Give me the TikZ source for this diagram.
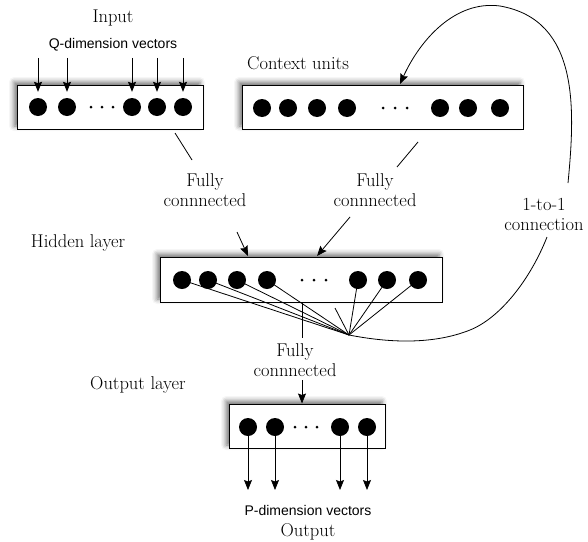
\documentclass[tikz,border=0pt]{standalone}
\usepackage{fontspec}
\newfontfamily\labelsans{Liberation Sans}
\usetikzlibrary{arrows.meta,shadows.blur,positioning}

\begin{document}
\begin{tikzpicture}[x=1pt,y=-1pt,
                unit/.style={circle,fill=black,minimum size=18pt,inner sep=0pt},
                dot/.style={circle,fill=black,minimum size=3pt,inner sep=0pt},
                layer/.style={rectangle,draw=black,line width=1pt,fill=white,inner sep=0pt,
                    blur shadow={shadow xshift=-3pt,shadow yshift=3pt,shadow blur radius=5pt,shadow opacity=55}},
                txt/.style={font=\fontsize{18.5}{20}\selectfont,inner sep=0pt,align=center},
                small/.style={font=\labelsans\fontsize{14}{16}\selectfont,inner sep=0pt},
                arr/.style={-{Stealth[length=10pt,width=8pt,inset=1.5pt]},line width=0.8pt},
                wire/.style={line width=0.8pt}
            ]
                \useasboundingbox (0,0) rectangle (588,541);

                % layers
                \node[layer,minimum width=186pt,minimum height=44pt] (inbox) at (110,107) {};
                \node[layer,minimum width=281pt,minimum height=44pt] (ctxbox) at (382.5,107) {};
                \node[layer,minimum width=282pt,minimum height=45pt] (hidbox) at (301,279.5) {};
                \node[layer,minimum width=156pt,minimum height=44pt] (outbox) at (307,426) {};

                % units
                \foreach \x [count=\i] in {38,67,132,157,183}
                    \node[unit] (in\i) at (\x,107) {};
                \foreach \x [count=\i] in {262,288,317,347,440,468,500}
                    \node[unit] (ctx\i) at (\x,108) {};
                \foreach \x [count=\i] in {182,208,237,267,358,387,418}
                    \node[unit] (hid\i) at (\x,280) {};
                \foreach \x [count=\i] in {248,275,340,367}
                    \node[unit] (out\i) at (\x,427) {};

                % dots
                \foreach \x in {91,102,113}
                    \node[dot] at (\x,107) {};
                \foreach \x in {383,395,407}
                    \node[dot] at (\x,108) {};
                \foreach \x in {302,314,326}
                    \node[dot] at (\x,280) {};
                \foreach \x in {295,306,317}
                    \node[dot] at (\x,427) {};

                % labels
                \node[txt] (intitle) at (113,18) {Input};
                \node[small] (qvec) at (113,45) {Q-dimension vectors};
                \node[txt,anchor=west] (ctxtitle) at (247,63) {Context units};
                \node[txt] (hidtitle) at (78,243) {Hidden layer};
                \node[txt,anchor=west] (outtitle) at (90,385) {Output layer};
                \node[small] (pvec) at (308,510) {P-dimension vectors};
                \node[txt] (outname) at (308,532) {Output};
                \node[txt] (fc1) at (205,190) {Fully\\connnected};
                \node[txt] (fc2) at (375,190) {Fully\\connnected};
                \node[txt] (fc3) at (295,360) {Fully\\connnected};
                \node[txt] (conn) at (544,214) {1-to-1\\connection};

                % input and output vectors
                \foreach \i in {1,...,5}
                    \draw[arr,shorten >=6pt] ($(in\i.north)+(0,-40)$) -- (in\i.north);
                \foreach \i in {1,...,4}
                    \draw[arr] (out\i.center) -- ++(0,63);

                % fully connected pointers
                \coordinate (a1) at (175,133);
                \coordinate (a2) at (192,160);
                \coordinate (a3) at (237,232);
                \coordinate (a4) at (248,256);
                \coordinate (b1) at (418,142);
                \coordinate (b2) at (397,167);
                \coordinate (b3) at (350,217);
                \coordinate (b4) at (317,256);
                \draw[wire] (a1) -- (a2);
                \draw[arr] (a3) -- (a4);
                \draw[wire] (b1) -- (b2);
                \draw[arr] (b3) -- (b4);
                \draw[wire] (302,302) -- (302,338);
                \draw[arr] (302,380) -- (outbox.north -| 302,0);

                % hidden units gathered to the copy line
                \coordinate (conv) at (349,335);
                \coordinate (stub) at (335,308);
                \foreach \i in {1,...,7}
                    \draw[wire] (hid\i.center) -- (conv);
                \draw[wire] (stub) -- (conv);

                % 1-to-1 copy back to the context units
                \coordinate (c1) at (547,237);
                \coordinate (c2) at (568,183);
                \coordinate (ctxin) at (400,84);
                \draw[wire] (conv) .. controls (400,345) and (440,342) .. (470,330)
                    .. controls (500,318) and (530,280) .. (c1);
                \draw[arr] (c2) .. controls (575,110) and (580,20) .. (500,6)
                    .. controls (455,0) and (420,40) .. (ctxin);

            \end{tikzpicture}
\end{document}
